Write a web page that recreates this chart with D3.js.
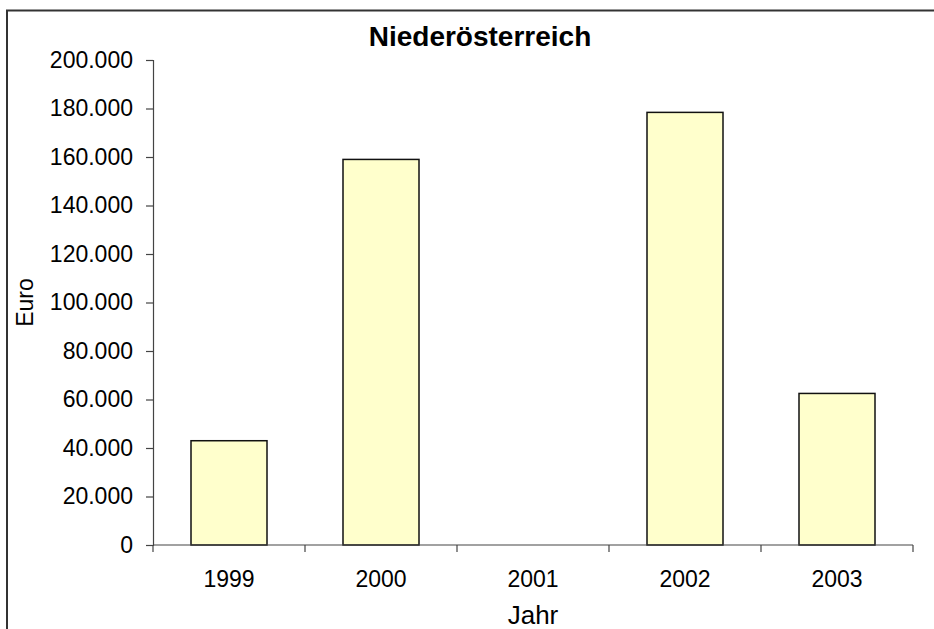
<!DOCTYPE html>
<html>
<head>
<meta charset="utf-8">
<script src="https://cdn.jsdelivr.net/npm/d3@7"></script>
<style>
html,body{margin:0;padding:0;background:#fff;}
svg{display:block;font-family:"Liberation Sans",Arial,sans-serif;}
</style>
</head>
<body>
<svg id="chart" width="934" height="629"></svg>
<script>
const categories = ["1999", "2000", "2001", "2002", "2003"];
const values = [43000, 159000, 0, 178400, 62500];
const yTicks = [0, 20000, 40000, 60000, 80000, 100000, 120000, 140000, 160000, 180000, 200000];
const title = "Niederösterreich";
const xTitle = "Jahr";
const yTitle = "Euro";

(function () {
const svg = d3.select("#chart");
const mLeft = 153, mRight = 913, mTop = 60, mBottom = 545;

// outer frame (only left and top visible)
svg.append("path")
  .attr("d", "M7,640 L7,10.5 L940,10.5")
  .attr("fill", "none").attr("stroke", "#333").attr("stroke-width", 2);

const x = d3.scaleBand().domain(categories).range([mLeft, mRight]).paddingInner(0.5).paddingOuter(0.25);
const y = d3.scaleLinear().domain([0, 200000]).range([mBottom, mTop]);

const fmt = d => d3.format(",")(d).replace(/,/g, ".");

// bars
svg.append("g").selectAll("rect")
  .data(categories.map((c, i) => ({c, v: values[i]})).filter(d => d.v > 0))
  .join("rect")
  .attr("x", d => x(d.c))
  .attr("y", d => y(d.v))
  .attr("width", x.bandwidth())
  .attr("height", d => y(0) - y(d.v))
  .attr("fill", "#ffffcc")
  .attr("stroke", "#111")
  .attr("stroke-width", 1.5);

// y axis
const yAxis = svg.append("g").attr("transform", `translate(${mLeft},0)`)
  .call(d3.axisLeft(y).tickValues(yTicks).tickFormat(fmt).tickSize(7).tickPadding(13));
yAxis.select(".domain").attr("stroke", "#444").attr("stroke-width", 1.2);
yAxis.selectAll(".tick line").attr("stroke", "#444").attr("stroke-width", 1.2);
yAxis.selectAll("text").attr("font-size", 23).attr("fill", "#000")
  .attr("font-family", "Liberation Sans, Arial, sans-serif");

// x axis with ticks at band boundaries
const xAxisG = svg.append("g").attr("transform", `translate(0,${mBottom})`);
xAxisG.append("line").attr("x1", mLeft).attr("x2", mRight).attr("y1", 0).attr("y2", 0)
  .attr("stroke", "#444").attr("stroke-width", 1.2);
const bounds = d3.range(categories.length + 1).map(i => mLeft + i * (mRight - mLeft) / categories.length);
xAxisG.selectAll("line.tk").data(bounds).join("line").attr("class", "tk")
  .attr("x1", d => d).attr("x2", d => d).attr("y1", 0).attr("y2", 7)
  .attr("stroke", "#444").attr("stroke-width", 1.2);
xAxisG.selectAll("text").data(categories).join("text")
  .attr("x", d => x(d) + x.bandwidth() / 2)
  .attr("y", 42)
  .attr("text-anchor", "middle")
  .attr("font-size", 23)
  .attr("fill", "#000")
  .text(d => d);

// titles
svg.append("text").attr("x", 480).attr("y", 46).attr("text-anchor", "middle")
  .attr("font-size", 28).attr("font-weight", "bold").attr("fill", "#000").text(title);
svg.append("text").attr("x", (mLeft + mRight) / 2).attr("y", 624).attr("text-anchor", "middle")
  .attr("font-size", 26).attr("fill", "#000").text(xTitle);
svg.append("text").attr("transform", `translate(33,${(mTop + mBottom) / 2}) rotate(-90)`)
  .attr("text-anchor", "middle").attr("font-size", 23).attr("fill", "#000").text(yTitle);
})();
</script>
</body>
</html>
